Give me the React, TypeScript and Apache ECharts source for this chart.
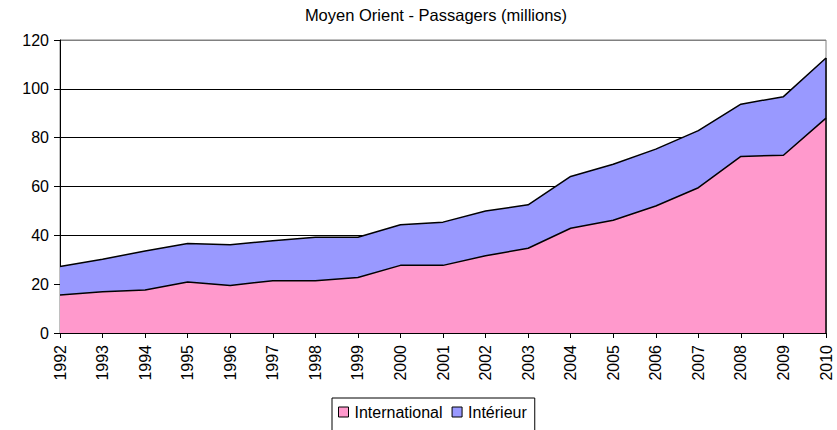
import React, { useEffect, useRef } from "react";
import * as echarts from "echarts";

const years = ["1992","1993","1994","1995","1996","1997","1998","1999","2000","2001","2002","2003","2004","2005","2006","2007","2008","2009","2010"];
const international = [15.6,16.9,17.6,20.9,19.5,21.4,21.4,22.7,27.7,27.7,31.6,34.7,42.9,46.2,52.0,59.5,72.3,72.8,88.0];
const interieur = [11.6,13.3,16.0,15.8,16.6,16.4,17.8,16.5,16.6,17.7,18.4,17.8,21.2,22.9,23.3,23.4,21.4,24.0,24.6];
const titleText = "Moyen Orient - Passagers (millions)";

const FONT = "Liberation Sans, Arial, sans-serif";

export default function App() {
  const ref = useRef<HTMLDivElement>(null);
  useEffect(() => {
    if (!ref.current) return;
    const chart = echarts.init(ref.current, undefined, { renderer: "svg" });
    const lastIdx = years.length - 1;
    const lastTotal = international[lastIdx] + interieur[lastIdx];
    chart.setOption({
      animation: false,
      backgroundColor: "#fff",
      textStyle: { fontFamily: FONT },
      graphic: [
        {
          type: "text",
          x: 436,
          y: 15,
          style: {
            text: titleText,
            fontFamily: FONT,
            fontSize: 16.5,
            fill: "#000",
            textAlign: "center",
            textVerticalAlign: "middle",
          },
        },
      ],
      legend: {
        left: 332,
        top: 398,
        orient: "horizontal",
        itemWidth: 10,
        itemHeight: 10,
        itemGap: 9,
        padding: [6, 8, 24, 6],
        borderColor: "#000",
        borderWidth: 1,
        borderRadius: 0,
        textStyle: { fontFamily: FONT, fontSize: 16, color: "#000", padding: [0, 0, 0, 1] },
        data: [
          { name: "International", icon: "rect", itemStyle: { color: "#FF99CC", borderColor: "#000", borderWidth: 1 } },
          { name: "Intérieur", icon: "rect", itemStyle: { color: "#9999FF", borderColor: "#000", borderWidth: 1 } },
        ],
      },
      grid: {
        left: 60,
        right: 11,
        top: 40,
        bottom: 97,
        show: true,
        borderColor: "#808080",
        borderWidth: 1,
        containLabel: false,
      },
      xAxis: {
        type: "category",
        data: years,
        boundaryGap: false,
        axisLine: { lineStyle: { color: "#000", width: 1 } },
        axisTick: { show: true, length: 5, alignWithLabel: true, lineStyle: { color: "#000" } },
        axisLabel: {
          rotate: 90,
          margin: 12,
          fontFamily: FONT,
          fontSize: 16,
          color: "#000",
          interval: 0,
        },
        splitLine: { show: false },
      },
      yAxis: {
        type: "value",
        min: 0,
        max: 120,
        interval: 20,
        axisLine: { show: true, lineStyle: { color: "#000", width: 1 } },
        axisTick: { show: true, length: 6, lineStyle: { color: "#000" } },
        axisLabel: { margin: 11, fontFamily: FONT, fontSize: 16, color: "#000" },
        splitLine: {
          show: true,
          lineStyle: { color: ["#000", "#000", "#000", "#000", "#000", "#000", "#808080"], width: 1 },
        },
      },
      series: [
        {
          name: "International",
          type: "line",
          stack: "total",
          data: international,
          symbol: "none",
          lineStyle: { color: "#000", width: 1.5 },
          itemStyle: { color: "#FF99CC" },
          areaStyle: { color: "#FF99CC", opacity: 1 },
          markLine: {
            silent: true,
            symbol: "none",
            label: { show: false },
            lineStyle: { color: "#000", width: 1.5, type: "solid" },
            data: [[{ coord: [years[lastIdx], 0] }, { coord: [years[lastIdx], lastTotal] }]],
          },
        },
        {
          name: "Intérieur",
          type: "line",
          stack: "total",
          data: interieur,
          symbol: "none",
          lineStyle: { color: "#000", width: 1.5 },
          itemStyle: { color: "#9999FF" },
          areaStyle: { color: "#9999FF", opacity: 1 },
        },
      ],
    });
    return () => chart.dispose();
  }, []);
  return (
    <div
      ref={ref}
      style={{ position: "fixed", left: 0, top: 0, width: 837, height: 430 }}
    />
  );
}
